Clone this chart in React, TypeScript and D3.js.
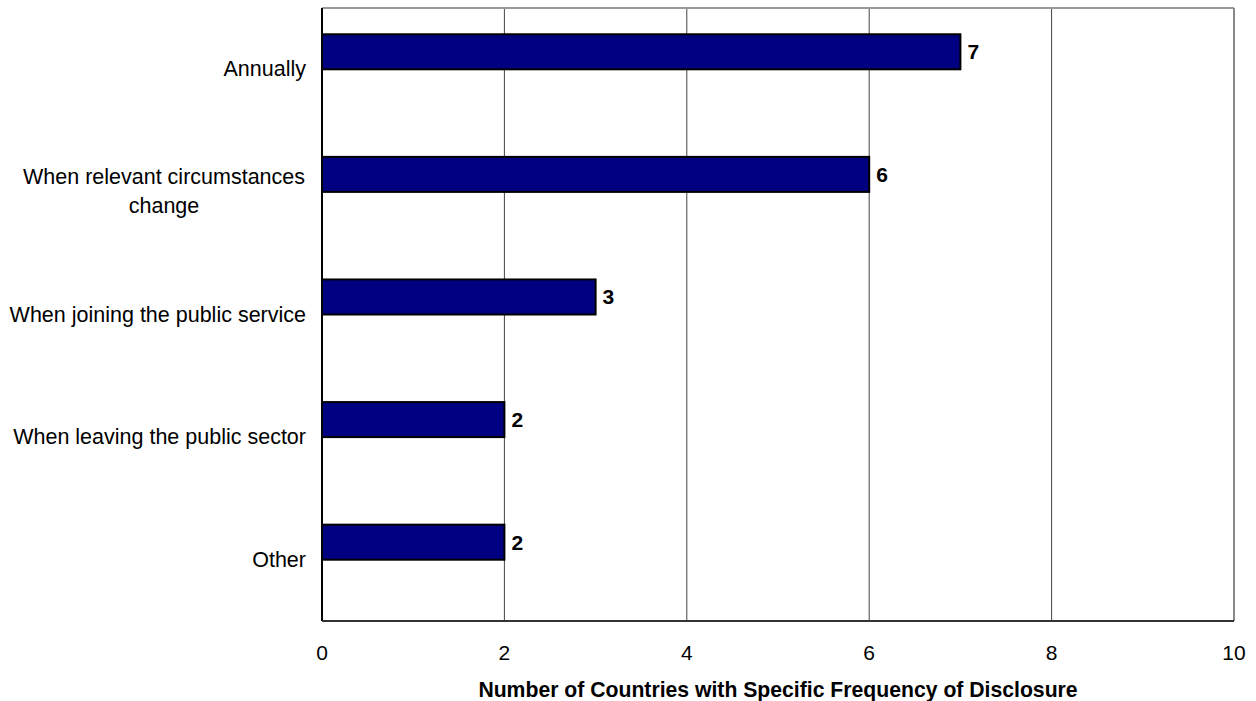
import React from "react";
import * as d3 from "d3";

const categories: string[][] = [
  ["Annually"],
  ["When relevant circumstances", "change"],
  ["When joining the public service"],
  ["When leaving the public sector"],
  ["Other"],
];
const values: number[] = [7, 6, 3, 2, 2];
const seriesNames: string[] = ["Countries", "(blank)"];
const xTicks: number[] = [0, 2, 4, 6, 8, 10];
const xTitle = "Number of Countries with Specific Frequency of Disclosure";

const W = 1256;
const H = 701;
const M = { left: 322, right: 1234, top: 8, bottom: 621 };
const FONT = "Arial, 'Liberation Sans', sans-serif";
const FS = 21;

export default function App() {
  const x = d3.scaleLinear().domain([0, 10]).range([M.left, M.right]);
  const keys = categories.map((c) => c.join(" "));
  const y = d3.scaleBand<string>().domain(keys).range([M.top, M.bottom]).padding(0);
  const inner = d3
    .scaleBand<string>()
    .domain(seriesNames)
    .range([0, y.bandwidth()])
    .paddingInner(0)
    .paddingOuter(0.75);

  return (
    <svg
      width={W}
      height={H}
      style={{ position: "absolute", left: 0, top: 0, background: "#fff" }}
      fontFamily={FONT}
    >
      {xTicks.slice(1, -1).map((t) => (
        <line key={t} x1={x(t)} x2={x(t)} y1={M.top} y2={M.bottom} stroke="#444" strokeWidth={1} />
      ))}
      <line x1={M.left} x2={M.right} y1={M.top} y2={M.top} stroke="#999" strokeWidth={2} />
      <line x1={M.right} x2={M.right} y1={M.top} y2={M.bottom} stroke="#888" strokeWidth={2} />
      {values.map((v, i) => {
        const y0 = (y(keys[i]) as number) + (inner(seriesNames[0]) as number);
        const h = inner.bandwidth();
        return (
          <g key={i}>
            <rect x={x(0)} y={y0} width={x(v) - x(0)} height={h} fill="#000080" stroke="#000" strokeWidth={2} />
            <text
              x={x(v) + 7}
              y={y0 + h / 2}
              dominantBaseline="central"
              fontSize={FS}
              fontWeight="bold"
              fill="#000"
            >
              {v}
            </text>
          </g>
        );
      })}
      <line x1={M.left} x2={M.left} y1={M.top} y2={M.bottom} stroke="#000" strokeWidth={2} />
      <line x1={M.left} x2={M.right} y1={M.bottom} y2={M.bottom} stroke="#333" strokeWidth={2} />
      {xTicks.map((t) => (
        <text key={t} x={x(t)} y={652} textAnchor="middle" dominantBaseline="central" fontSize={FS} fill="#000">
          {t}
        </text>
      ))}
      {categories.map((lines, i) => {
        const cy = (y(keys[i]) as number) + y.bandwidth() / 2;
        const lh = 29;
        const multi = lines.length > 1;
        return (
          <text key={i} fontSize={21.5} fill="#000" textAnchor={multi ? "middle" : "end"}>
            {lines.map((l, j) => (
              <tspan
                key={j}
                x={multi ? 164 : 306}
                y={cy + (j - (lines.length - 1) / 2) * lh}
                dominantBaseline="central"
              >
                {l}
              </tspan>
            ))}
          </text>
        );
      })}
      <text x={(M.left + M.right) / 2} y={689} textAnchor="middle" dominantBaseline="central" fontSize={21.2} fontWeight="bold" fill="#000">
        {xTitle}
      </text>
    </svg>
  );
}
